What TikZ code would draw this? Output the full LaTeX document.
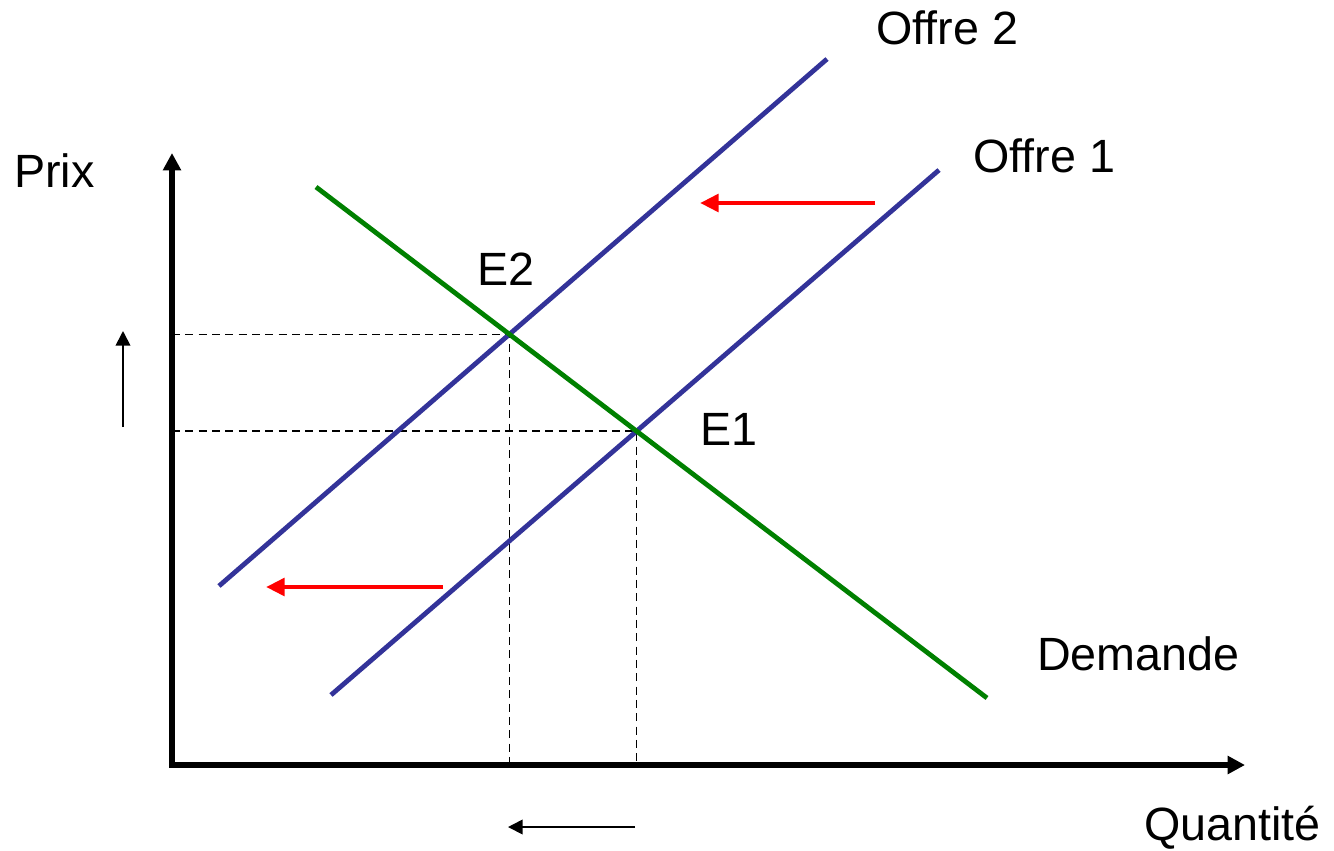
\documentclass[tikz,border=0pt]{standalone}
\usepackage{fontspec}
\setmainfont{Liberation Sans}
\usetikzlibrary{arrows.meta}
\definecolor{offblue}{RGB}{51,51,153}
\definecolor{demgreen}{RGB}{0,128,0}
\begin{document}
\begin{tikzpicture}[x=0.75pt,y=-0.75pt,
	axe/.style={line width=4pt,line join=miter,{Triangle[length=13pt,width=13pt]}-{Triangle[length=13pt,width=13pt]}},
	offre/.style={line width=3.6pt,offblue},
	demande/.style={line width=3.6pt,demgreen},
	glisse/.style={line width=3.6pt,red,-{Triangle[length=14pt,width=13pt]}},
	guide/.style={line width=1pt,dash pattern=on 6pt off 4pt},
	sens/.style={line width=1.3pt,-{Triangle[length=11pt,width=11pt]}},
	lab/.style={anchor=base west,inner sep=0pt,font=\fontsize{35}{42}\selectfont}]
	\useasboundingbox (0,0) rectangle (1334,850);
	\coordinate (O) at (172,765);
	\coordinate (ytop) at (172,153);
	\coordinate (xend) at (1245,765);
	\coordinate (o2a) at (219,586);
	\coordinate (o2b) at (827,59);
	\coordinate (o1a) at (331,695);
	\coordinate (o1b) at (939,170);
	\coordinate (da) at (316,187);
	\coordinate (db) at (987,698);
	\coordinate (E2) at (intersection of o2a--o2b and da--db);
	\coordinate (E1) at (intersection of o1a--o1b and da--db);
	\draw[guide] (E2 -| O) -- (E2) -- (E2 |- O);
	\draw[guide] (E1 -| O) -- (E1) -- (E1 |- O);
	\draw[axe] (ytop) -- (O) -- (xend);
	\draw[offre] (o2a) -- (o2b);
	\draw[offre] (o1a) -- (o1b);
	\draw[demande] (da) -- (db);
	\coordinate (g1s) at (875,203);
	\coordinate (g1e) at (700,203);
	\coordinate (g2s) at (443,587);
	\coordinate (g2e) at (266,587);
	\draw[glisse] (g1s) -- (g1e);
	\draw[glisse] (g2s) -- (g2e);
	\coordinate (ps) at (123,427);
	\coordinate (pe) at (123,331);
	\coordinate (qs) at (635,827);
	\coordinate (qe) at (508,827);
	\draw[sens] (ps) -- (pe);
	\draw[sens] (qs) -- (qe);
	\node[lab] (prix) at (14,187) {Prix};
	\node[lab] (offre2) at (876,44) {Offre 2};
	\node[lab] (offre1) at (973,172) {Offre 1};
	\node[lab] (e2) at (477,285) {E2};
	\node[lab] (e1) at (700,445) {E1};
	\node[lab] (dem) at (1037,670) {Demande};
	\node[lab] (quant) at (1144,840) {Quantité};
\end{tikzpicture}
\end{document}
